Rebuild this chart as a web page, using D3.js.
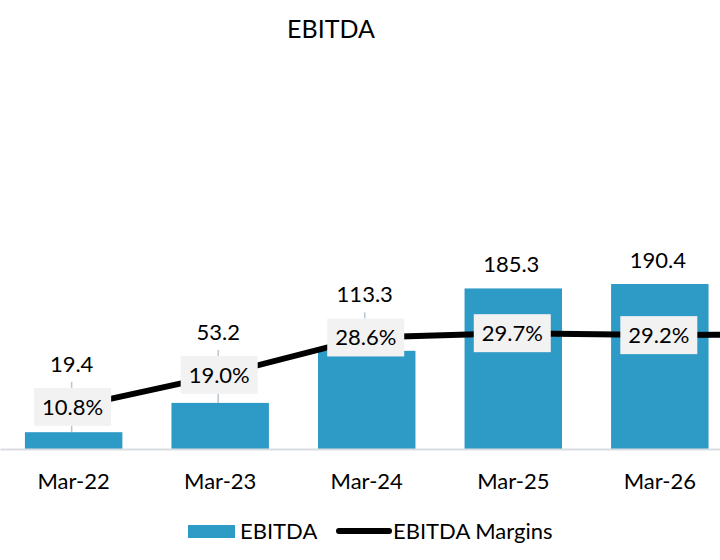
<!DOCTYPE html>
<html>
<head>
<meta charset="utf-8">
<script src="https://cdn.jsdelivr.net/npm/d3@7"></script>
<style>
  body { margin: 0; background: #ffffff; }
  text { font-family: Lato, "Open Sans", sans-serif; fill: #000; }
</style>
</head>
<body>
<div id="chart-container"></div>
<script>
let width = 720;
let height = 560;

// chart data
const categories = ["Mar-22", "Mar-23", "Mar-24", "Mar-25", "Mar-26", "Mar-27"];
const ebitdaValues = [19.4, 53.2, 113.3, 185.3, 190.4, 205.0];
const marginValues = [0.108, 0.190, 0.286, 0.297, 0.292, 0.295];
const legendLabels = ["EBITDA", "EBITDA Margins"];

const barColor = "#2e9bc7";
const baseY = 449;
const fontSize = "22px";

const svg = d3.select("#chart-container")
    .append("svg")
    .attr("width", width)
    .attr("height", height);

const x = d3.scaleBand()
    .domain(categories)
    .range([0, 880])
    .paddingInner(0.335)
    .paddingOuter(0.17);

const y = d3.scaleLinear()
    .domain([0, 200])
    .range([baseY, baseY - 173.3]);

const y2 = d3.scaleLinear()
    .domain([0, 0.4])
    .range([baseY, baseY - 156]);

// title
svg.append("text")
    .attr("x", 331)
    .attr("y", 38)
    .attr("text-anchor", "middle")
    .style("font-size", "25px")
    .text("EBITDA");

const chartData = categories.map((name, i) => ({
    name, value: ebitdaValues[i], margin: marginValues[i]
}));
const cx = d => x(d.name) + x.bandwidth() / 2;
// only the points that fall inside the picture get labels
const shown = chartData.filter(d => cx(d) < width);

// bars
svg.append("g")
    .attr("class", "bars")
    .attr("fill", barColor)
    .selectAll("rect")
    .data(chartData)
    .join("rect")
    .attr("x", d => x(d.name))
    .attr("y", d => y(d.value))
    .attr("width", x.bandwidth())
    .attr("height", d => y(0) - y(d.value));

// x axis
const xAxis = svg.append("g")
    .attr("class", "x-axis")
    .attr("transform", `translate(0,${baseY})`)
    .call(d3.axisBottom(x).tickSize(0).tickPadding(24).tickSizeOuter(0)
        .tickFormat(d => cx({name: d}) < width ? d : ""));
xAxis.select(".domain").attr("stroke", "#d9dde2").attr("stroke-width", 2);
xAxis.selectAll("text")
    .style("font-size", fontSize)
    .style("font-family", "Lato, 'Open Sans', sans-serif")
    .attr("fill", "#000");

// margin line
const line = d3.line()
    .x(cx)
    .y(d => y2(d.margin));

svg.append("path")
    .datum(chartData)
    .attr("fill", "none")
    .attr("stroke", "#000")
    .attr("stroke-width", 6)
    .attr("stroke-linejoin", "round")
    .attr("d", line);

// label boxes for margins
const boxW = 77, boxH = 38;
const boxTop = d => y2(d.margin) - boxH / 2;

// bar value labels, lifted above the margin box when they would collide
const labelY = d => {
    const top = y(d.value);
    const bt = boxTop(d);
    return (top > bt - 4) ? bt - 24 : top - 24;
};

const leaders = svg.append("g")
    .attr("stroke", "#b8c4d0")
    .attr("stroke-width", 1.5);
shown.forEach(d => {
    const top = y(d.value);
    const bt = boxTop(d);
    if (top > bt - 4) {
        leaders.append("line")
            .attr("x1", cx(d) - 2).attr("x2", cx(d) - 2)
            .attr("y1", labelY(d) + 18).attr("y2", bt);
        if (top > bt + boxH) {
            leaders.append("line")
                .attr("x1", cx(d) - 2).attr("x2", cx(d) - 2)
                .attr("y1", bt + boxH).attr("y2", top);
        }
    }
});

svg.append("g")
    .selectAll("text")
    .data(shown)
    .join("text")
    .attr("x", d => cx(d) - 2)
    .attr("y", d => labelY(d) + 8)
    .attr("text-anchor", "middle")
    .style("font-size", fontSize)
    .text(d => d.value.toFixed(1));

const boxes = svg.append("g")
    .selectAll("g")
    .data(shown)
    .join("g")
    .attr("transform", d => `translate(${cx(d) - 1},${y2(d.margin)})`);

boxes.append("rect")
    .attr("x", -boxW / 2)
    .attr("y", -boxH / 2)
    .attr("width", boxW)
    .attr("height", boxH)
    .attr("fill", "#f2f2f2");

boxes.append("text")
    .attr("text-anchor", "middle")
    .attr("y", 8)
    .style("font-size", fontSize)
    .text(d => (d.margin * 100).toFixed(1) + "%");

// legend
const legend = svg.append("g").attr("class", "legend");
legend.append("rect")
    .attr("x", 188).attr("y", 525)
    .attr("width", 47).attr("height", 13)
    .attr("fill", barColor);
legend.append("text")
    .attr("x", 240).attr("y", 539)
    .style("font-size", fontSize)
    .text(legendLabels[0]);
legend.append("line")
    .attr("x1", 339).attr("x2", 389)
    .attr("y1", 531).attr("y2", 531)
    .attr("stroke", "#000")
    .attr("stroke-width", 6)
    .attr("stroke-linecap", "round");
legend.append("text")
    .attr("x", 393).attr("y", 539)
    .style("font-size", fontSize)
    .text(legendLabels[1]);
</script>
</body>
</html>
